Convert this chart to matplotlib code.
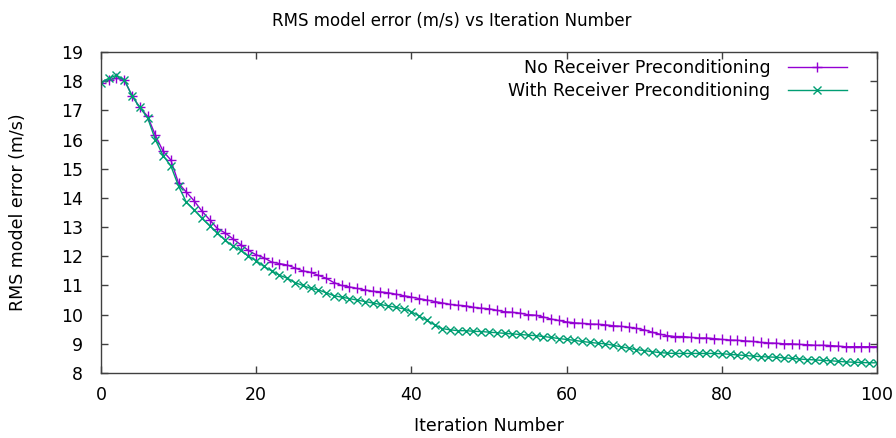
import numpy as np
import matplotlib.pyplot as plt

# RMS model error per iteration
iters = np.arange(0, 101)

no_precond = [
    17.95, 18.05, 18.10, 18.05, 17.50, 17.10, 16.80, 16.15, 15.60, 15.30,
    14.50, 14.20, 13.90, 13.55, 13.25, 12.95, 12.80, 12.60, 12.40, 12.20,
    12.05, 11.95, 11.80, 11.75, 11.70, 11.60, 11.50, 11.45, 11.35, 11.25,
    11.10, 11.00, 10.95, 10.90, 10.85, 10.80, 10.78, 10.75, 10.70, 10.65,
    10.60, 10.55, 10.50, 10.45, 10.40, 10.35, 10.32, 10.30, 10.25, 10.22,
    10.20, 10.15, 10.10, 10.08, 10.05, 10.00, 9.98, 9.92, 9.85, 9.80,
    9.75, 9.72, 9.70, 9.68, 9.67, 9.65, 9.62, 9.60, 9.57, 9.53,
    9.48, 9.40, 9.33, 9.28, 9.25, 9.25, 9.22, 9.20, 9.20, 9.18,
    9.15, 9.13, 9.12, 9.10, 9.08, 9.05, 9.03, 9.02, 9.00, 9.00,
    8.98, 8.97, 8.95, 8.95, 8.94, 8.92, 8.90, 8.90, 8.90, 8.90,
    8.90,
]

with_precond = [
    17.95, 18.10, 18.20, 18.05, 17.50, 17.10, 16.75, 16.00, 15.45, 15.10,
    14.40, 13.85, 13.60, 13.30, 13.05, 12.80, 12.55, 12.35, 12.20, 12.00,
    11.85, 11.65, 11.50, 11.35, 11.25, 11.10, 11.00, 10.90, 10.85, 10.75,
    10.65, 10.60, 10.55, 10.50, 10.45, 10.40, 10.35, 10.30, 10.25, 10.20,
    10.10, 9.95, 9.80, 9.65, 9.52, 9.48, 9.45, 9.45, 9.43, 9.42,
    9.40, 9.38, 9.36, 9.34, 9.32, 9.30, 9.28, 9.25, 9.22, 9.18,
    9.15, 9.12, 9.08, 9.05, 9.02, 9.00, 8.95, 8.90, 8.85, 8.80,
    8.77, 8.73, 8.70, 8.68, 8.67, 8.67, 8.67, 8.67, 8.67, 8.67,
    8.66, 8.64, 8.62, 8.60, 8.58, 8.56, 8.55, 8.54, 8.52, 8.50,
    8.48, 8.46, 8.45, 8.43, 8.42, 8.40, 8.38, 8.37, 8.36, 8.35,
    8.35,
]

fs = 12.5
plt.rcParams['font.family'] = ['DejaVu Sans']
fig = plt.figure(figsize=(8.96, 4.38), dpi=100)
ax = fig.add_axes([0.1127, 0.1484, 0.8661, 0.7329])

ax.plot(iters, no_precond, '+-', color='#9400d3', lw=1, ms=7, mew=1,
        label='No Receiver Preconditioning')
ax.plot(iters, with_precond, 'x-', color='#009e73', lw=1, ms=5.5, mew=1,
        label='With Receiver Preconditioning')

ax.set_xlim(0, 100)
ax.set_ylim(8, 19)
ax.set_xticks(np.arange(0, 101, 20))
ax.set_yticks(np.arange(8, 20, 1))
ax.tick_params(direction='in', top=True, right=True, length=5, width=1,
               color='#404040', labelsize=fs)
ax.tick_params(axis='y', pad=13)
ax.tick_params(axis='x', pad=9)
for s in ax.spines.values():
    s.set_linewidth(1)
    s.set_color('#404040')

# gnuplot centres the title on the canvas rather than on the plot box
ax.set_title('RMS model error (m/s) vs Iteration Number', fontsize=12,
             pad=19, x=0.4525)
ax.set_xlabel('Iteration Number', fontsize=fs, labelpad=10)
ax.set_ylabel('RMS model error (m/s)', fontsize=fs, labelpad=24)

ax.legend(loc='upper right', frameon=False, markerfirst=False, numpoints=1,
          fontsize=fs, handlelength=3.4, handletextpad=1.0, labelspacing=0.25,
          borderpad=0.4, bbox_to_anchor=(0.981, 1.026))

fig.savefig('out.png', dpi=100)
